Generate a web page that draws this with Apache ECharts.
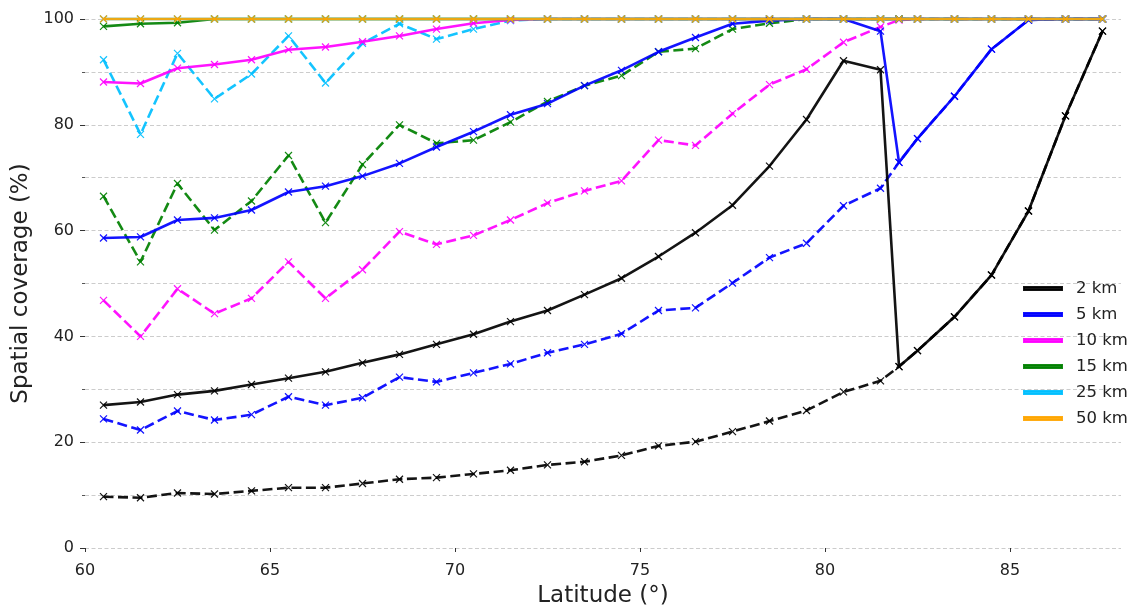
<!DOCTYPE html>
<html>
<head>
<meta charset="utf-8">
<script src="https://cdn.jsdelivr.net/npm/echarts@6/dist/echarts.min.js"></script>
<style>
html,body{margin:0;padding:0;background:#fff;overflow:hidden;}
#chart{width:1135px;height:613px;}
</style>
</head>
<body>
<div id="chart"></div>
<script>
// Latitude bins (degrees)
const latitudes = [60.5,61.5,62.5,63.5,64.5,65.5,66.5,67.5,68.5,69.5,70.5,71.5,72.5,73.5,74.5,75.5,76.5,77.5,78.5,79.5,80.5,81.5,82.0,82.5,83.5,84.5,85.5,86.5,87.5];

// Solid lines
const km2Solid  = [27.0,27.6,29.0,29.7,30.9,32.1,33.3,35.0,36.6,38.5,40.4,42.8,44.9,47.9,51.0,55.1,59.6,64.8,72.2,81.0,92.1,90.4,34.3,37.3,43.7,51.6,63.7,81.7,97.7];
const km5Solid  = [58.6,58.8,62.0,62.4,63.9,67.3,68.4,70.3,72.7,75.8,78.7,81.9,84.0,87.4,90.3,93.8,96.5,99.1,99.7,100,100,97.7,72.9,77.4,85.4,94.3,99.8,100,100];
const km10Solid = [88.1,87.8,90.7,91.4,92.3,94.2,94.7,95.7,96.8,98.1,99.2,99.8,100,100,100,100,100,100,100,100,100,100,100,100,100,100,100,100,100];
const km15Solid = [98.6,99.1,99.3,100,100,100,100,100,100,100,100,100,100,100,100,100,100,100,100,100,100,100,100,100,100,100,100,100,100];
const km25Solid = [100,100,100,100,100,100,100,100,100,100,100,100,100,100,100,100,100,100,100,100,100,100,100,100,100,100,100,100,100];
const km50Solid = [100,100,100,100,100,100,100,100,100,100,100,100,100,100,100,100,100,100,100,100,100,100,100,100,100,100,100,100,100];

// Dashed lines
const km2Dashed  = [9.7,9.5,10.4,10.2,10.8,11.4,11.4,12.2,13.0,13.3,14.0,14.7,15.7,16.3,17.5,19.3,20.1,22.0,24.0,26.0,29.5,31.6,34.3,37.3,43.7,51.6,63.7,81.7,97.7];
const km5Dashed  = [24.4,22.3,25.9,24.2,25.2,28.6,27.0,28.4,32.3,31.4,33.1,34.8,36.9,38.5,40.5,44.9,45.4,50.1,54.9,57.6,64.7,68.0,72.9,77.4,85.4,94.3,99.8,100,100];
const km10Dashed = [46.8,40.0,49.0,44.3,47.2,54.1,47.2,52.6,59.8,57.4,59.1,62.0,65.2,67.5,69.4,77.1,76.1,82.1,87.6,90.5,95.6,98.5,99.8,100,100,100,100,100,100];
const km15Dashed = [66.5,54.1,68.9,60.1,65.6,74.2,61.5,72.5,80.0,76.5,77.1,80.5,84.4,87.4,89.3,93.8,94.4,98.1,99.2,100,100,100,100,100,100,100,100,100,100];
const km25Dashed = [92.3,78.2,93.5,84.9,89.6,96.8,87.9,95.4,99.1,96.2,98.1,99.7,100,100,100,100,100,100,100,100,100,100,100,100,100,100,100,100,100];

const xTicks = [60,65,70,75,80,85];
const legendNames = ['2 km','5 km','10 km','15 km','25 km','50 km'];

const colors = {
  '2 km':'#000000','5 km':'#0000ff','10 km':'#ff00ff','15 km':'#008000','25 km':'#00bfff','50 km':'#ffa500'
};

const X_SYMBOL = 'path://M0,0L10,10M10,0L0,10';

function mk(name, values, color, dashed, z) {
  return {
    name: name,
    type: 'line',
    data: latitudes.map((x,i)=>[x, values[i]]),
    symbol: X_SYMBOL,
    symbolSize: 7,
    showSymbol: true,
    clip: false,
    z: z,
    animation: false,
    lineStyle: {color: color, width: 2.6, type: dashed ? [10,4.5] : 'solid', opacity: 0.92},
    itemStyle: {color: color, borderColor: color, borderWidth: 1.2, opacity: 0.92},
    emphasis: {disabled: true}
  };
}

const series = [
  mk('2 km dashed', km2Dashed, colors['2 km'], true, 2),
  mk('5 km dashed', km5Dashed, colors['5 km'], true, 2),
  mk('10 km dashed', km10Dashed, colors['10 km'], true, 2),
  mk('15 km dashed', km15Dashed, colors['15 km'], true, 2),
  mk('25 km dashed', km25Dashed, colors['25 km'], true, 2),
  mk('2 km', km2Solid, colors['2 km'], false, 3),
  mk('5 km', km5Solid, colors['5 km'], false, 3),
  mk('10 km', km10Solid, colors['10 km'], false, 3),
  mk('15 km', km15Solid, colors['15 km'], false, 3),
  mk('25 km', km25Solid, colors['25 km'], false, 3),
  mk('50 km', km50Solid, colors['50 km'], false, 4)
];

const chart = echarts.init(document.getElementById('chart'), null, {renderer:'canvas', width: 1135, height: 613});
const FONT = 'DejaVu Sans';
chart.setOption({
  backgroundColor: '#ffffff',
  animation: false,
  grid: {left: 85, top: 19, width: 1036, height: 531, containLabel: false},
  xAxis: {
    type: 'value', min: 60, max: 88,
    name: 'Latitude (°)', nameLocation: 'middle', nameGap: 37,
    nameTextStyle: {fontFamily: FONT, fontSize: 23, color: '#222'},
    axisLine: {show: false},
    axisTick: {show: true, length: 4, customValues: xTicks, lineStyle: {color: '#333'}},
    axisLabel: {customValues: xTicks, fontFamily: FONT, fontSize: 16, color: '#222', margin: 15},
    splitLine: {show: false}
  },
  yAxis: {
    type: 'value', min: 0, max: 100, interval: 20,
    name: 'Spatial coverage (%)', nameLocation: 'middle', nameGap: 40,
    nameTextStyle: {fontFamily: FONT, fontSize: 23, color: '#222'},
    axisLine: {show: false},
    axisTick: {show: true, length: 5, lineStyle: {color: '#333'}},
    minorTick: {show: true, splitNumber: 2, length: 3, lineStyle: {color: '#555'}},
    axisLabel: {fontFamily: FONT, fontSize: 16, color: '#222', margin: 11},
    splitLine: {show: true, lineStyle: {color: '#cccccc', type: [4,2.5], width: 1}},
    minorSplitLine: {show: true, lineStyle: {color: '#cccccc', type: [4,2.5], width: 1}}
  },
  legend: {
    data: legendNames,
    orient: 'vertical',
    left: 1018, top: 275,
    icon: 'rect', itemWidth: 38, itemHeight: 3, itemGap: 9,
    textStyle: {fontFamily: FONT, fontSize: 16.5, color: '#222', padding: [0,0,0,9]},
    selectedMode: false
  },
  series: series
});
</script>
</body>
</html>
